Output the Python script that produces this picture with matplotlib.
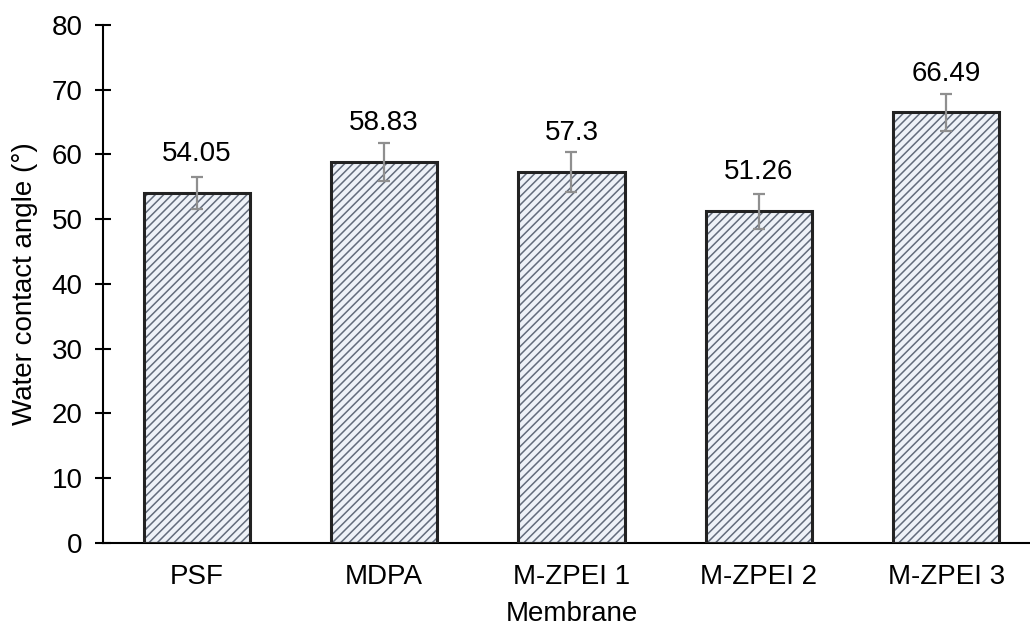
import matplotlib
matplotlib.use("Agg")
import matplotlib.pyplot as plt
import numpy as np

# data
membranes = ["PSF", "MDPA", "M-ZPEI 1", "M-ZPEI 2", "M-ZPEI 3"]
contact_angle = [54.05, 58.83, 57.3, 51.26, 66.49]
angle_err = [2.5, 3.0, 3.1, 2.7, 2.8]
value_labels = ["54.05", "58.83", "57.3", "51.26", "66.49"]

plt.rcParams["font.family"] = ["Liberation Sans", "DejaVu Sans"]
plt.rcParams["hatch.linewidth"] = 1.1
plt.rcParams["hatch.color"] = "#636c7c"

fig = plt.figure(figsize=(10.3, 6.28), dpi=100)
ax = fig.add_axes([0.1, 0.1354, 0.9097, 0.8248])

x = np.arange(len(membranes))
width = 0.566

# hatched fill, then a plain outline on top (so hatch and edge can differ in colour)
ax.bar(x, contact_angle, width, color="#eef2f8", edgecolor="#636c7c",
       hatch="////", linewidth=0, zorder=2)
ax.bar(x, contact_angle, width, fill=False, edgecolor="#222222",
       linewidth=2.2, zorder=3)
ax.errorbar(x, contact_angle, yerr=angle_err, fmt="none", ecolor="#8f8f8f",
            elinewidth=1.6, capsize=4.5, capthick=1.6, zorder=4)

for xi, v, lab in zip(x, contact_angle, value_labels):
    ax.text(xi, v + 6.0, lab, ha="center", va="center", fontsize=20)

ax.set_xlim(-0.5, 4.5)
ax.set_ylim(0, 80)
ax.set_yticks(range(0, 81, 10))
ax.set_xticks(x)
ax.set_xticklabels(membranes)

for s in ["top", "right"]:
    ax.spines[s].set_visible(False)
for s in ["left", "bottom"]:
    ax.spines[s].set_linewidth(1.5)
    ax.spines[s].set_color("black")

ax.tick_params(axis="y", direction="inout", length=11, width=1.5,
               labelsize=20, pad=9)
ax.tick_params(axis="x", length=0, labelsize=20, pad=15)

ax.set_xlabel("Membrane", fontsize=20, labelpad=8)
ax.set_ylabel("Water contact angle (°)", fontsize=20, labelpad=10)

fig.savefig("out.png", dpi=100)
